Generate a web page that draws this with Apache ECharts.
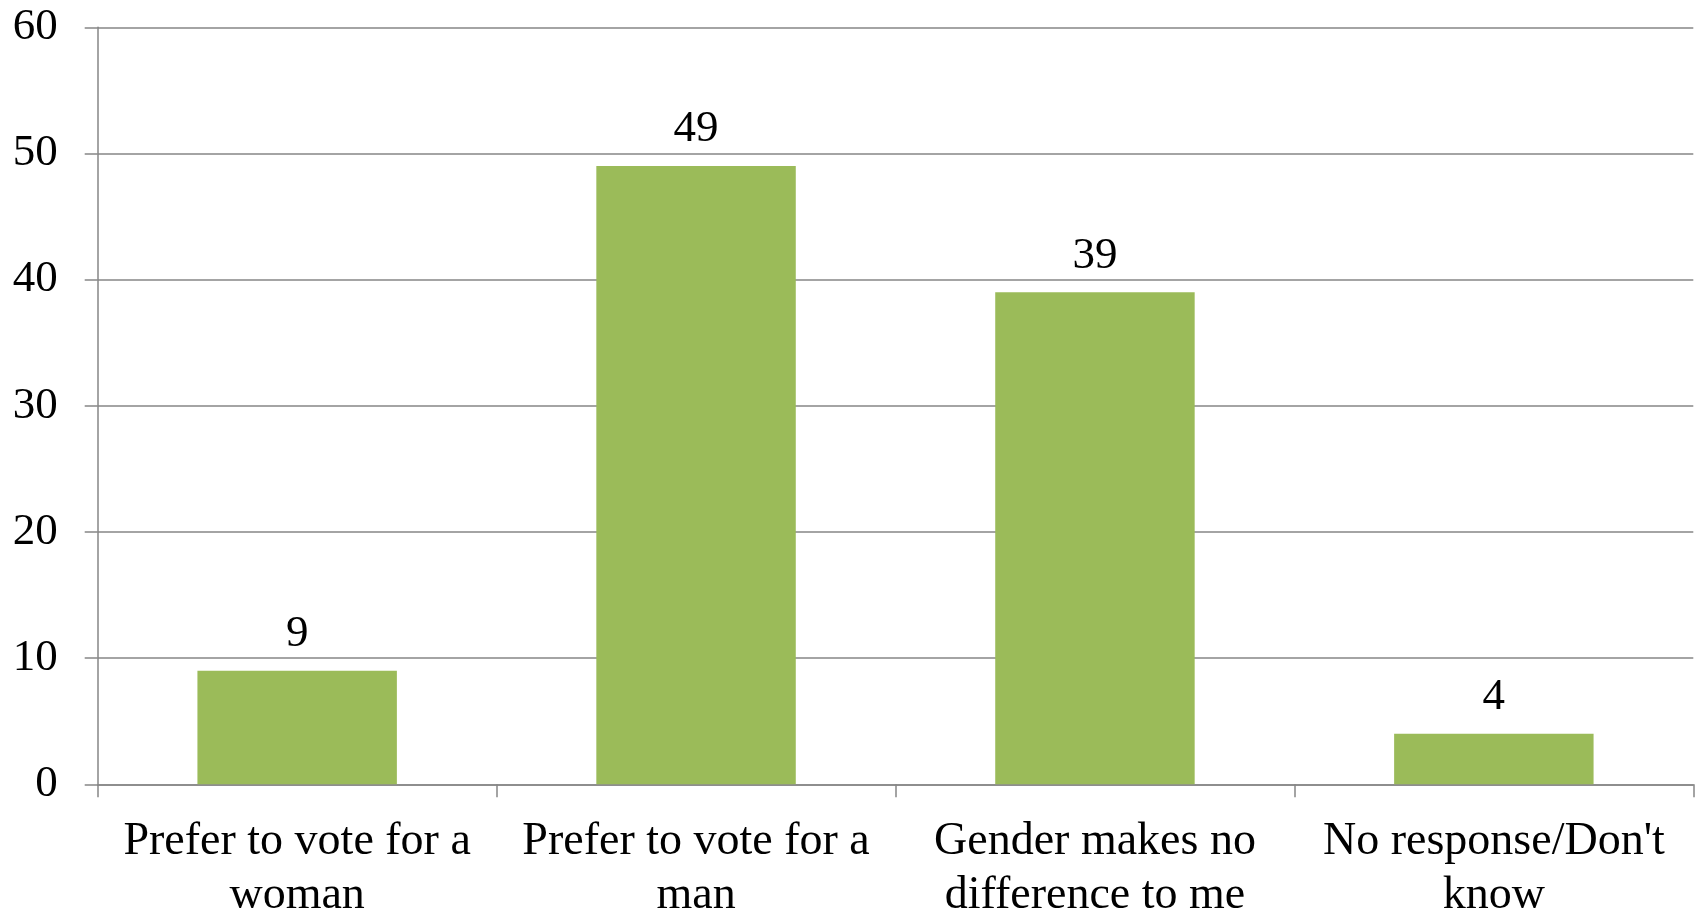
<!DOCTYPE html>
<html>
<head>
<meta charset="utf-8">
<script src="https://cdn.jsdelivr.net/npm/echarts@6/dist/echarts.min.js"></script>
<style>
html,body{margin:0;padding:0;background:#fff;}
#chart{width:1700px;height:912px;}
</style>
</head>
<body>
<div id="chart"></div>
<script>
const categories = ["Prefer to vote for a\nwoman", "Prefer to vote for a\nman", "Gender makes no\ndifference to me", "No response/Don't\nknow"];
const values = [9, 49, 39, 4];
const yTicks = [0, 10, 20, 30, 40, 50, 60];

const FONT = "'Liberation Serif', 'DejaVu Serif', serif";
const chart = echarts.init(document.getElementById('chart'), null, {renderer: 'canvas'});
chart.setOption({
  animation: false,
  grid: {left: 97.7, right: 6.7, top: 27.3, bottom: 127.7, containLabel: false, outerBoundsMode: 'none'},
  xAxis: {
    type: 'category',
    data: categories,
    axisLine: {show: true, lineStyle: {color: '#868686', width: 1.5}},
    axisTick: {show: true, length: 13, alignWithLabel: false, lineStyle: {color: '#868686', width: 1.5}},
    axisLabel: {color: '#000', fontFamily: FONT, fontSize: 46, lineHeight: 54, margin: 31, interval: 0}
  },
  yAxis: {
    type: 'value',
    min: yTicks[0],
    max: yTicks[yTicks.length - 1],
    interval: 10,
    axisLine: {show: true, lineStyle: {color: '#868686', width: 1.5}},
    axisTick: {show: true, length: 13, lineStyle: {color: '#868686', width: 1.5}},
    axisLabel: {color: '#000', fontFamily: FONT, fontSize: 45, margin: 40},
    splitLine: {show: true, lineStyle: {color: '#868686', width: 1.5}}
  },
  series: [{
    type: 'bar',
    data: values,
    barWidth: '50%',
    itemStyle: {color: '#9BBB59'},
    label: {show: true, position: 'top', distance: 14, color: '#000', fontFamily: FONT, fontSize: 45}
  }]
});
</script>
</body>
</html>
